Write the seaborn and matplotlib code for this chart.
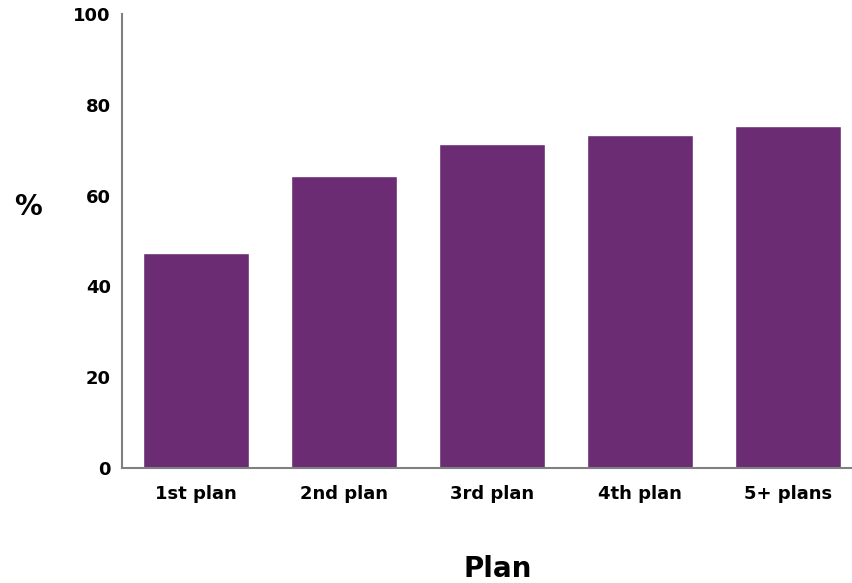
import pandas as pd
import matplotlib.pyplot as plt
import seaborn as sns

plans = ['1st plan', '2nd plan', '3rd plan', '4th plan', '5+ plans']
pct = [47.4, 64.4, 71.4, 73.4, 75.4]

sns.set_style('white')
plt.rcParams['font.family'] = ['DejaVu Sans']

df = pd.DataFrame({'plan': plans, 'pct': pct})

fig = plt.figure(figsize=(8.52, 5.83), dpi=100)
ax = fig.add_axes([0.1432, 0.197, 0.8568, 0.779])
sns.barplot(data=df, x='plan', y='pct', color='#6B2C73', saturation=1,
            width=0.716, ax=ax)

ax.set_ylim(0, 100)
ax.set_xlim(-0.5, 4.43)
ax.set_yticks([0, 20, 40, 60, 80, 100])
ax.tick_params(axis='both', length=0, labelsize=13, labelcolor='black')
ax.tick_params(axis='x', pad=12)
ax.tick_params(axis='y', pad=8)
for lab in ax.get_xticklabels() + ax.get_yticklabels():
    lab.set_fontweight('bold')

sns.despine(ax=ax)
for side in ['left', 'bottom']:
    ax.spines[side].set_color('#808080')
    ax.spines[side].set_linewidth(1.5)

ax.set_xlabel('Plan', fontsize=20, fontweight='bold', color='black')
ax.set_ylabel('%', fontsize=20, fontweight='bold', rotation=0, color='black')
ax.yaxis.set_label_coords(-0.129, 0.545)
ax.xaxis.set_label_coords(0.514, -0.192)

fig.savefig('out.png', dpi=100)
